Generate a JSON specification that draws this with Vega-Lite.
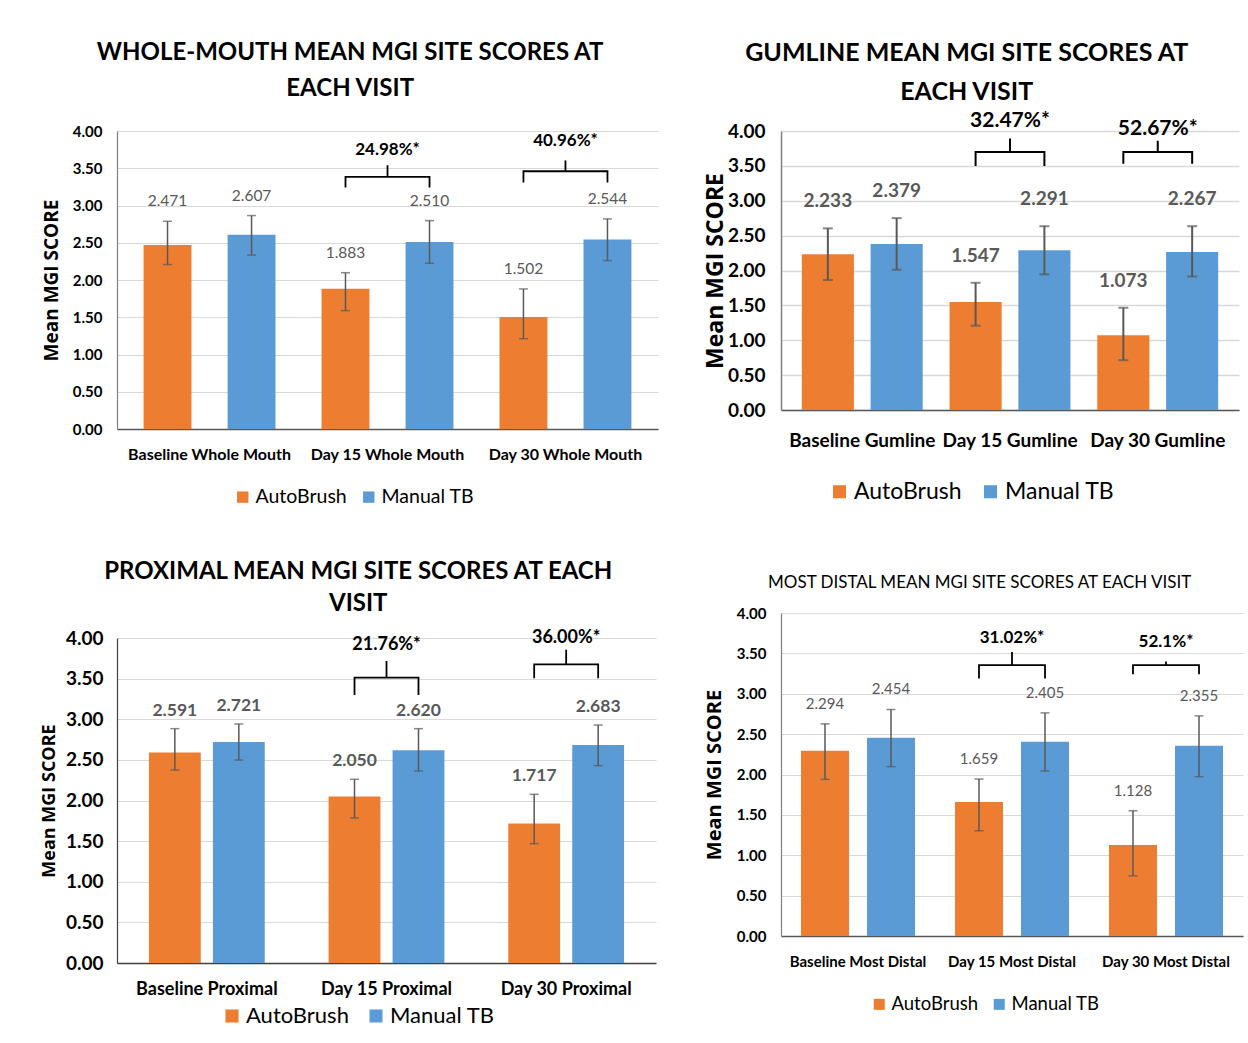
{
  "$schema": "https://vega.github.io/schema/vega-lite/v6.json",
  "background": "white",
  "padding": {"left": 40, "top": 40, "right": 2, "bottom": 0},
  "config": {
    "view": {"stroke": null},
    "font": "Lato",
    "axis": {"ticks": false, "tickSize": 0},
    "title": {"color": "black"},
    "legend": {"padding": 0, "labelOffset": 3}
  },
  "datasets": {
    "whole": [
      {"visit": "Baseline Whole Mouth", "group": "AutoBrush", "mean": 2.471, "lo": 2.207, "hi": 2.788},
      {"visit": "Baseline Whole Mouth", "group": "Manual TB", "mean": 2.607, "lo": 2.334, "hi": 2.865},
      {"visit": "Day 15 Whole Mouth", "group": "AutoBrush", "mean": 1.883, "lo": 1.589, "hi": 2.098},
      {"visit": "Day 15 Whole Mouth", "group": "Manual TB", "mean": 2.510, "lo": 2.225, "hi": 2.797},
      {"visit": "Day 30 Whole Mouth", "group": "AutoBrush", "mean": 1.502, "lo": 1.212, "hi": 1.880},
      {"visit": "Day 30 Whole Mouth", "group": "Manual TB", "mean": 2.544, "lo": 2.261, "hi": 2.820}
    ],
    "whole_br": [
      {"visit": "Day 15 Whole Mouth", "group": "AutoBrush", "y": 3.24, "ord": 1},
      {"visit": "Day 15 Whole Mouth", "group": "AutoBrush", "y": 3.383, "ord": 2},
      {"visit": "Day 15 Whole Mouth", "group": "Manual TB", "y": 3.383, "ord": 3},
      {"visit": "Day 15 Whole Mouth", "group": "Manual TB", "y": 3.24, "ord": 4},
      {"visit": "Day 30 Whole Mouth", "group": "AutoBrush", "y": 3.31, "ord": 1},
      {"visit": "Day 30 Whole Mouth", "group": "AutoBrush", "y": 3.46, "ord": 2},
      {"visit": "Day 30 Whole Mouth", "group": "Manual TB", "y": 3.46, "ord": 3},
      {"visit": "Day 30 Whole Mouth", "group": "Manual TB", "y": 3.31, "ord": 4}
    ],
    "whole_lab": [
      {"visit": "Day 15 Whole Mouth", "top": 3.383, "tip": 3.54, "ly": 3.74, "label": "24.98%*"},
      {"visit": "Day 30 Whole Mouth", "top": 3.46, "tip": 3.605, "ly": 3.87, "label": "40.96%*"}
    ],
    "gum": [
      {"visit": "Baseline Gumline", "group": "AutoBrush", "mean": 2.233, "lo": 1.864, "hi": 2.604},
      {"visit": "Baseline Gumline", "group": "Manual TB", "mean": 2.379, "lo": 2.010, "hi": 2.751},
      {"visit": "Day 15 Gumline", "group": "AutoBrush", "mean": 1.547, "lo": 1.209, "hi": 1.824},
      {"visit": "Day 15 Gumline", "group": "Manual TB", "mean": 2.291, "lo": 1.945, "hi": 2.635},
      {"visit": "Day 30 Gumline", "group": "AutoBrush", "mean": 1.073, "lo": 0.715, "hi": 1.466},
      {"visit": "Day 30 Gumline", "group": "Manual TB", "mean": 2.267, "lo": 1.914, "hi": 2.635}
    ],
    "gum_br": [
      {"visit": "Day 15 Gumline", "group": "AutoBrush", "y": 3.50, "ord": 1},
      {"visit": "Day 15 Gumline", "group": "AutoBrush", "y": 3.698, "ord": 2},
      {"visit": "Day 15 Gumline", "group": "Manual TB", "y": 3.698, "ord": 3},
      {"visit": "Day 15 Gumline", "group": "Manual TB", "y": 3.50, "ord": 4},
      {"visit": "Day 30 Gumline", "group": "AutoBrush", "y": 3.53, "ord": 1},
      {"visit": "Day 30 Gumline", "group": "AutoBrush", "y": 3.698, "ord": 2},
      {"visit": "Day 30 Gumline", "group": "Manual TB", "y": 3.698, "ord": 3},
      {"visit": "Day 30 Gumline", "group": "Manual TB", "y": 3.53, "ord": 4}
    ],
    "gum_lab": [
      {"visit": "Day 15 Gumline", "top": 3.698, "tip": 3.894, "ly": 4.146, "label": "32.47%*"},
      {"visit": "Day 30 Gumline", "top": 3.698, "tip": 3.86, "ly": 4.035, "label": "52.67%*"}
    ],
    "prox": [
      {"visit": "Baseline Proximal", "group": "AutoBrush", "mean": 2.591, "lo": 2.375, "hi": 2.884},
      {"visit": "Baseline Proximal", "group": "Manual TB", "mean": 2.721, "lo": 2.498, "hi": 2.942},
      {"visit": "Day 15 Proximal", "group": "AutoBrush", "mean": 2.050, "lo": 1.785, "hi": 2.261},
      {"visit": "Day 15 Proximal", "group": "Manual TB", "mean": 2.620, "lo": 2.363, "hi": 2.884},
      {"visit": "Day 30 Proximal", "group": "AutoBrush", "mean": 1.717, "lo": 1.469, "hi": 2.076},
      {"visit": "Day 30 Proximal", "group": "Manual TB", "mean": 2.683, "lo": 2.429, "hi": 2.929}
    ],
    "prox_br": [
      {"visit": "Day 15 Proximal", "group": "AutoBrush", "y": 3.30, "ord": 1},
      {"visit": "Day 15 Proximal", "group": "AutoBrush", "y": 3.512, "ord": 2},
      {"visit": "Day 15 Proximal", "group": "Manual TB", "y": 3.512, "ord": 3},
      {"visit": "Day 15 Proximal", "group": "Manual TB", "y": 3.30, "ord": 4},
      {"visit": "Day 30 Proximal", "group": "AutoBrush", "y": 3.504, "ord": 1},
      {"visit": "Day 30 Proximal", "group": "AutoBrush", "y": 3.676, "ord": 2},
      {"visit": "Day 30 Proximal", "group": "Manual TB", "y": 3.676, "ord": 3},
      {"visit": "Day 30 Proximal", "group": "Manual TB", "y": 3.504, "ord": 4}
    ],
    "prox_lab": [
      {"visit": "Day 15 Proximal", "top": 3.512, "tip": 3.717, "ly": 3.914, "label": "21.76%*"},
      {"visit": "Day 30 Proximal", "top": 3.676, "tip": 3.856, "ly": 3.996, "label": "36.00%*"}
    ],
    "distal": [
      {"visit": "Baseline Most Distal", "group": "AutoBrush", "mean": 2.294, "lo": 1.940, "hi": 2.627},
      {"visit": "Baseline Most Distal", "group": "Manual TB", "mean": 2.454, "lo": 2.097, "hi": 2.805},
      {"visit": "Day 15 Most Distal", "group": "AutoBrush", "mean": 1.659, "lo": 1.303, "hi": 1.944},
      {"visit": "Day 15 Most Distal", "group": "Manual TB", "mean": 2.405, "lo": 2.043, "hi": 2.763},
      {"visit": "Day 30 Most Distal", "group": "AutoBrush", "mean": 1.128, "lo": 0.745, "hi": 1.551},
      {"visit": "Day 30 Most Distal", "group": "Manual TB", "mean": 2.355, "lo": 1.973, "hi": 2.726}
    ],
    "distal_br": [
      {"visit": "Day 15 Most Distal", "group": "AutoBrush", "y": 3.19, "ord": 1},
      {"visit": "Day 15 Most Distal", "group": "AutoBrush", "y": 3.355, "ord": 2},
      {"visit": "Day 15 Most Distal", "group": "Manual TB", "y": 3.355, "ord": 3},
      {"visit": "Day 15 Most Distal", "group": "Manual TB", "y": 3.19, "ord": 4},
      {"visit": "Day 30 Most Distal", "group": "AutoBrush", "y": 3.24, "ord": 1},
      {"visit": "Day 30 Most Distal", "group": "AutoBrush", "y": 3.355, "ord": 2},
      {"visit": "Day 30 Most Distal", "group": "Manual TB", "y": 3.355, "ord": 3},
      {"visit": "Day 30 Most Distal", "group": "Manual TB", "y": 3.24, "ord": 4}
    ],
    "distal_lab": [
      {"visit": "Day 15 Most Distal", "top": 3.355, "tip": 3.516, "ly": 3.686, "label": "31.02%*"},
      {"visit": "Day 30 Most Distal", "top": 3.355, "tip": 3.40, "ly": 3.636, "label": "52.1%*"}
    ]
  },
  "hconcat": [
    {
      "concat": [
        {
          "width": 541, "height": 298,
          "title": {"text": ["WHOLE-MOUTH MEAN MGI SITE SCORES AT", "EACH VISIT"], "font": "Lato", "fontSize": 24, "fontWeight": "bold", "color": "black", "lineHeight": 36, "offset": 23, "anchor": "middle", "frame": "bounds"},
          "layer": [
            {"data": {"name": "whole"}, "mark": {"type": "bar"},
             "encoding": {
               "x": {"field": "visit", "type": "nominal", "sort": null, "scale": {"domain": ["Baseline Whole Mouth", "Day 15 Whole Mouth", "Day 30 Whole Mouth"], "paddingInner": 0, "paddingOuter": 0.02},
                     "axis": {"title": null, "labelAngle": 0, "labelFont": "Lato", "labelFontWeight": "bold", "labelFontSize": 16, "labelColor": "black", "labelPadding": 17, "domainColor": "#595959", "domainWidth": 1.5, "grid": false}},
               "xOffset": {"field": "group", "type": "nominal", "sort": null, "scale": {"domain": ["AutoBrush", "Manual TB"], "paddingInner": 0.43, "paddingOuter": 0.274}},
               "y": {"field": "mean", "type": "quantitative", "scale": {"domain": [0, 4], "nice": false},
                     "axis": {"title": "Mean MGI SCORE", "titleFont": "Open Sans", "titleFontSize": 19, "titleFontWeight": "bold", "titleColor": "black", "titlePadding": 11, "tickCount": 8, "labelOverlap": false, "format": ".2f", "labelFont": "Lato", "labelFontWeight": "bold", "labelFontSize": 15, "labelColor": "black", "labelPadding": 15, "grid": true, "gridColor": "#D9D9D9", "gridWidth": 1.2, "domainColor": "#808080", "domainWidth": 1.2}},
               "color": {"field": "group", "type": "nominal", "scale": {"domain": ["AutoBrush", "Manual TB"], "range": ["#ED7D31", "#5B9BD5"]},
                         "legend": {"orient": "none", "legendX": 116, "legendY": 356, "title": null, "direction": "horizontal", "symbolType": "square", "symbolSize": 130, "symbolStrokeWidth": 0, "labelFont": "Lato", "labelFontSize": 19.5, "labelColor": "black", "columnPadding": 12}}
             }},
            {"data": {"name": "whole"}, "mark": {"type": "rule", "color": "#595959", "strokeWidth": 1.5},
             "encoding": {"x": {"field": "visit", "type": "nominal", "sort": null}, "xOffset": {"field": "group", "type": "nominal", "sort": null}, "y": {"field": "lo", "type": "quantitative"}, "y2": {"field": "hi"}}},
            {"data": {"name": "whole"}, "mark": {"type": "tick", "color": "#595959", "thickness": 1.5, "size": 9, "orient": "horizontal"},
             "encoding": {"x": {"field": "visit", "type": "nominal", "sort": null}, "xOffset": {"field": "group", "type": "nominal", "sort": null}, "y": {"field": "hi", "type": "quantitative"}}},
            {"data": {"name": "whole"}, "mark": {"type": "tick", "color": "#595959", "thickness": 1.5, "size": 9, "orient": "horizontal"},
             "encoding": {"x": {"field": "visit", "type": "nominal", "sort": null}, "xOffset": {"field": "group", "type": "nominal", "sort": null}, "y": {"field": "lo", "type": "quantitative"}}},
            {"data": {"name": "whole"}, "mark": {"type": "text", "dy": -20, "font": "Lato", "fontSize": 15.5, "color": "#595959"},
             "encoding": {"x": {"field": "visit", "type": "nominal", "sort": null}, "xOffset": {"field": "group", "type": "nominal", "sort": null}, "y": {"field": "hi", "type": "quantitative"}, "text": {"field": "mean", "type": "quantitative", "format": ".3f"}}},
            {"data": {"name": "whole_br"}, "mark": {"type": "line", "color": "black", "strokeWidth": 1.8},
             "encoding": {"x": {"field": "visit", "type": "nominal", "sort": null}, "xOffset": {"field": "group", "type": "nominal", "sort": null}, "y": {"field": "y", "type": "quantitative"}, "detail": {"field": "visit"}, "order": {"field": "ord", "type": "quantitative"}}},
            {"data": {"name": "whole_lab"}, "mark": {"type": "rule", "color": "black", "strokeWidth": 1.8},
             "encoding": {"x": {"field": "visit", "type": "nominal", "sort": null}, "y": {"field": "top", "type": "quantitative"}, "y2": {"field": "tip"}}},
            {"data": {"name": "whole_lab"}, "mark": {"type": "text", "font": "Lato", "fontWeight": "bold", "fontSize": 17, "color": "black"},
             "encoding": {"x": {"field": "visit", "type": "nominal", "sort": null}, "y": {"field": "ly", "type": "quantitative"}, "text": {"field": "label"}}}
          ],
          "resolve": {"scale": {"xOffset": "shared"}}
        },
        {
          "width": 539, "height": 325,
          "title": {"text": ["PROXIMAL MEAN MGI SITE SCORES AT EACH", "VISIT"], "font": "Lato", "fontSize": 24, "fontWeight": "bold", "color": "black", "lineHeight": 32, "offset": 13, "anchor": "middle", "frame": "bounds", "dx": 10},
          "layer": [
            {"data": {"name": "prox"}, "mark": {"type": "bar"},
             "encoding": {
               "x": {"field": "visit", "type": "nominal", "sort": null, "scale": {"domain": ["Baseline Proximal", "Day 15 Proximal", "Day 30 Proximal"], "paddingInner": 0, "paddingOuter": 0},
                     "axis": {"title": null, "labelAngle": 0, "labelFont": "Lato", "labelFontWeight": "bold", "labelFontSize": 18, "labelColor": "black", "labelPadding": 17, "domainColor": "#404040", "domainWidth": 1.5, "grid": false}},
               "xOffset": {"field": "group", "type": "nominal", "sort": null, "scale": {"domain": ["AutoBrush", "Manual TB"], "paddingInner": 0.19, "paddingOuter": 0.499}},
               "y": {"field": "mean", "type": "quantitative", "scale": {"domain": [0, 4], "nice": false},
                     "axis": {"title": "Mean MGI SCORE", "titleFont": "Open Sans", "titleFontSize": 18, "titleFontWeight": "bold", "titleColor": "black", "titlePadding": 7, "tickCount": 8, "labelOverlap": false, "format": ".2f", "labelFont": "Lato", "labelFontWeight": "bold", "labelFontSize": 19, "labelColor": "black", "labelPadding": 14, "grid": true, "gridColor": "#D9D9D9", "gridWidth": 1.2, "domainColor": "#404040", "domainWidth": 1.2}},
               "color": {"field": "group", "type": "nominal", "scale": {"domain": ["AutoBrush", "Manual TB"], "range": ["#ED7D31", "#5B9BD5"]},
                         "legend": {"orient": "none", "legendX": 104, "legendY": 367, "title": null, "direction": "horizontal", "symbolType": "square", "symbolSize": 170, "symbolStrokeWidth": 0, "labelFont": "Lato", "labelFontSize": 22, "labelColor": "black", "columnPadding": 16}}
             }},
            {"data": {"name": "prox"}, "mark": {"type": "rule", "color": "#595959", "strokeWidth": 1.5},
             "encoding": {"x": {"field": "visit", "type": "nominal", "sort": null}, "xOffset": {"field": "group", "type": "nominal", "sort": null}, "y": {"field": "lo", "type": "quantitative"}, "y2": {"field": "hi"}}},
            {"data": {"name": "prox"}, "mark": {"type": "tick", "color": "#595959", "thickness": 1.5, "size": 9, "orient": "horizontal"},
             "encoding": {"x": {"field": "visit", "type": "nominal", "sort": null}, "xOffset": {"field": "group", "type": "nominal", "sort": null}, "y": {"field": "hi", "type": "quantitative"}}},
            {"data": {"name": "prox"}, "mark": {"type": "tick", "color": "#595959", "thickness": 1.5, "size": 9, "orient": "horizontal"},
             "encoding": {"x": {"field": "visit", "type": "nominal", "sort": null}, "xOffset": {"field": "group", "type": "nominal", "sort": null}, "y": {"field": "lo", "type": "quantitative"}}},
            {"data": {"name": "prox"}, "mark": {"type": "text", "dy": -18, "font": "Lato", "fontWeight": "bold", "fontSize": 17.5, "color": "#595959"},
             "encoding": {"x": {"field": "visit", "type": "nominal", "sort": null}, "xOffset": {"field": "group", "type": "nominal", "sort": null}, "y": {"field": "hi", "type": "quantitative"}, "text": {"field": "mean", "type": "quantitative", "format": ".3f"}}},
            {"data": {"name": "prox_br"}, "mark": {"type": "line", "color": "black", "strokeWidth": 1.8},
             "encoding": {"x": {"field": "visit", "type": "nominal", "sort": null}, "xOffset": {"field": "group", "type": "nominal", "sort": null}, "y": {"field": "y", "type": "quantitative"}, "detail": {"field": "visit"}, "order": {"field": "ord", "type": "quantitative"}}},
            {"data": {"name": "prox_lab"}, "mark": {"type": "rule", "color": "black", "strokeWidth": 1.8},
             "encoding": {"x": {"field": "visit", "type": "nominal", "sort": null}, "y": {"field": "top", "type": "quantitative"}, "y2": {"field": "tip"}}},
            {"data": {"name": "prox_lab"}, "mark": {"type": "text", "font": "Lato", "fontWeight": "bold", "fontSize": 18, "color": "black"},
             "encoding": {"x": {"field": "visit", "type": "nominal", "sort": null}, "y": {"field": "ly", "type": "quantitative"}, "text": {"field": "label"}}}
          ],
          "resolve": {"scale": {"xOffset": "shared"}}
        }
      ],
      "columns": 1,
      "spacing": 53,
      "resolve": {"scale": {"color": "independent", "xOffset": "independent", "x": "independent", "y": "independent"}, "legend": {"color": "independent"}}
    },
    {
      "concat": [
        {
          "width": 458, "height": 279,
          "title": {"text": ["GUMLINE MEAN MGI SITE SCORES AT", "EACH VISIT"], "font": "Lato", "fontSize": 25, "fontWeight": "bold", "color": "black", "lineHeight": 39, "offset": 5, "anchor": "middle", "frame": "bounds", "dx": -5},
          "layer": [
            {"data": {"name": "gum"}, "mark": {"type": "bar"},
             "encoding": {
               "x": {"field": "visit", "type": "nominal", "sort": null, "scale": {"domain": ["Baseline Gumline", "Day 15 Gumline", "Day 30 Gumline"], "paddingInner": 0, "paddingOuter": 0.05},
                     "axis": {"title": null, "labelAngle": 0, "labelFont": "Lato", "labelFontWeight": "bold", "labelFontSize": 19, "labelColor": "black", "labelPadding": 21, "domainColor": "#595959", "domainWidth": 1.5, "grid": false}},
               "xOffset": {"field": "group", "type": "nominal", "sort": null, "scale": {"domain": ["AutoBrush", "Manual TB"], "paddingInner": 0.243, "paddingOuter": 0.195}},
               "y": {"field": "mean", "type": "quantitative", "scale": {"domain": [0, 4], "nice": false},
                     "axis": {"title": "Mean MGI SCORE", "titleFont": "Open Sans", "titleFontSize": 23, "titleFontWeight": "bold", "titleColor": "black", "titlePadding": 0, "tickCount": 8, "labelOverlap": false, "format": ".2f", "labelFont": "Lato", "labelFontWeight": "bold", "labelFontSize": 19, "labelColor": "black", "labelPadding": 16, "grid": true, "gridColor": "#D9D9D9", "gridWidth": 1.5, "domainColor": "#808080", "domainWidth": 1.5}},
               "color": {"field": "group", "type": "nominal", "scale": {"domain": ["AutoBrush", "Manual TB"], "range": ["#ED7D31", "#5B9BD5"]},
                         "legend": {"orient": "none", "legendX": 47, "legendY": 349, "title": null, "direction": "horizontal", "symbolType": "square", "symbolSize": 170, "symbolStrokeWidth": 0, "labelFont": "Lato", "labelFontSize": 23, "labelColor": "black", "columnPadding": 17}}
             }},
            {"data": {"name": "gum"}, "mark": {"type": "rule", "color": "#595959", "strokeWidth": 2},
             "encoding": {"x": {"field": "visit", "type": "nominal", "sort": null}, "xOffset": {"field": "group", "type": "nominal", "sort": null}, "y": {"field": "lo", "type": "quantitative"}, "y2": {"field": "hi"}}},
            {"data": {"name": "gum"}, "mark": {"type": "tick", "color": "#595959", "thickness": 2, "size": 10, "orient": "horizontal"},
             "encoding": {"x": {"field": "visit", "type": "nominal", "sort": null}, "xOffset": {"field": "group", "type": "nominal", "sort": null}, "y": {"field": "hi", "type": "quantitative"}}},
            {"data": {"name": "gum"}, "mark": {"type": "tick", "color": "#595959", "thickness": 2, "size": 10, "orient": "horizontal"},
             "encoding": {"x": {"field": "visit", "type": "nominal", "sort": null}, "xOffset": {"field": "group", "type": "nominal", "sort": null}, "y": {"field": "lo", "type": "quantitative"}}},
            {"data": {"name": "gum"}, "mark": {"type": "text", "dy": -27, "font": "Lato", "fontWeight": "bold", "fontSize": 19, "color": "#595959"},
             "encoding": {"x": {"field": "visit", "type": "nominal", "sort": null}, "xOffset": {"field": "group", "type": "nominal", "sort": null}, "y": {"field": "hi", "type": "quantitative"}, "text": {"field": "mean", "type": "quantitative", "format": ".3f"}}},
            {"data": {"name": "gum_br"}, "mark": {"type": "line", "color": "black", "strokeWidth": 2},
             "encoding": {"x": {"field": "visit", "type": "nominal", "sort": null}, "xOffset": {"field": "group", "type": "nominal", "sort": null}, "y": {"field": "y", "type": "quantitative"}, "detail": {"field": "visit"}, "order": {"field": "ord", "type": "quantitative"}}},
            {"data": {"name": "gum_lab"}, "mark": {"type": "rule", "color": "black", "strokeWidth": 2},
             "encoding": {"x": {"field": "visit", "type": "nominal", "sort": null}, "y": {"field": "top", "type": "quantitative"}, "y2": {"field": "tip"}}},
            {"data": {"name": "gum_lab"}, "mark": {"type": "text", "font": "Lato", "fontWeight": "bold", "fontSize": 21, "color": "black"},
             "encoding": {"x": {"field": "visit", "type": "nominal", "sort": null}, "y": {"field": "ly", "type": "quantitative"}, "text": {"field": "label"}}}
          ],
          "resolve": {"scale": {"xOffset": "shared"}}
        },
        {
          "width": 462, "height": 323,
          "title": {"text": "MOST DISTAL MEAN MGI SITE SCORES AT EACH VISIT", "font": "Lato", "fontSize": 17, "fontWeight": "normal", "color": "black", "offset": 14, "anchor": "middle", "frame": "bounds", "dx": 6},
          "layer": [
            {"data": {"name": "distal"}, "mark": {"type": "bar"},
             "encoding": {
               "x": {"field": "visit", "type": "nominal", "sort": null, "scale": {"domain": ["Baseline Most Distal", "Day 15 Most Distal", "Day 30 Most Distal"], "paddingInner": 0, "paddingOuter": 0},
                     "axis": {"title": null, "labelAngle": 0, "labelFont": "Lato", "labelFontWeight": "bold", "labelFontSize": 15, "labelColor": "black", "labelPadding": 18, "domainColor": "#595959", "domainWidth": 1.5, "grid": false}},
               "xOffset": {"field": "group", "type": "nominal", "sort": null, "scale": {"domain": ["AutoBrush", "Manual TB"], "paddingInner": 0.273, "paddingOuter": 0.303}},
               "y": {"field": "mean", "type": "quantitative", "scale": {"domain": [0, 4], "nice": false},
                     "axis": {"title": "Mean MGI SCORE", "titleFont": "Open Sans", "titleFontSize": 20, "titleFontWeight": "bold", "titleColor": "black", "titlePadding": 12, "values": [0, 0.5, 1, 1.5, 2, 2.5, 3, 3.5, 4], "format": ".2f", "labelFont": "Lato", "labelFontWeight": "bold", "labelFontSize": 15, "labelColor": "black", "labelPadding": 15, "gridColor": "#D9D9D9", "gridWidth": 1.2, "domainColor": "#808080", "domainWidth": 1.2}},
               "color": {"field": "group", "type": "nominal", "scale": {"domain": ["AutoBrush", "Manual TB"], "range": ["#ED7D31", "#5B9BD5"]},
                         "legend": {"orient": "none", "legendX": 89, "legendY": 382, "title": null, "direction": "horizontal", "symbolType": "square", "symbolSize": 121, "symbolStrokeWidth": 0, "labelFont": "Lato", "labelFontSize": 18.5, "labelColor": "black", "columnPadding": 11}}
             }},
            {"data": {"name": "distal"}, "mark": {"type": "rule", "color": "#595959", "strokeWidth": 1.5},
             "encoding": {"x": {"field": "visit", "type": "nominal", "sort": null}, "xOffset": {"field": "group", "type": "nominal", "sort": null}, "y": {"field": "lo", "type": "quantitative"}, "y2": {"field": "hi"}}},
            {"data": {"name": "distal"}, "mark": {"type": "tick", "color": "#595959", "thickness": 1.5, "size": 9, "orient": "horizontal"},
             "encoding": {"x": {"field": "visit", "type": "nominal", "sort": null}, "xOffset": {"field": "group", "type": "nominal", "sort": null}, "y": {"field": "hi", "type": "quantitative"}}},
            {"data": {"name": "distal"}, "mark": {"type": "tick", "color": "#595959", "thickness": 1.5, "size": 9, "orient": "horizontal"},
             "encoding": {"x": {"field": "visit", "type": "nominal", "sort": null}, "xOffset": {"field": "group", "type": "nominal", "sort": null}, "y": {"field": "lo", "type": "quantitative"}}},
            {"data": {"name": "distal"}, "mark": {"type": "text", "dy": -20, "font": "Lato", "fontSize": 15, "color": "#595959"},
             "encoding": {"x": {"field": "visit", "type": "nominal", "sort": null}, "xOffset": {"field": "group", "type": "nominal", "sort": null}, "y": {"field": "hi", "type": "quantitative"}, "text": {"field": "mean", "type": "quantitative", "format": ".3f"}}},
            {"data": {"name": "distal_br"}, "mark": {"type": "line", "color": "black", "strokeWidth": 1.8},
             "encoding": {"x": {"field": "visit", "type": "nominal", "sort": null}, "xOffset": {"field": "group", "type": "nominal", "sort": null}, "y": {"field": "y", "type": "quantitative"}, "detail": {"field": "visit"}, "order": {"field": "ord", "type": "quantitative"}}},
            {"data": {"name": "distal_lab"}, "mark": {"type": "rule", "color": "black", "strokeWidth": 1.8},
             "encoding": {"x": {"field": "visit", "type": "nominal", "sort": null}, "y": {"field": "top", "type": "quantitative"}, "y2": {"field": "tip"}}},
            {"data": {"name": "distal_lab"}, "mark": {"type": "text", "font": "Lato", "fontWeight": "bold", "fontSize": 17, "color": "black"},
             "encoding": {"x": {"field": "visit", "type": "nominal", "sort": null}, "y": {"field": "ly", "type": "quantitative"}, "text": {"field": "label"}}}
          ],
          "resolve": {"scale": {"xOffset": "shared"}}
        }
      ],
      "columns": 1,
      "spacing": 70,
      "resolve": {"scale": {"color": "independent", "xOffset": "independent", "x": "independent", "y": "independent"}, "legend": {"color": "independent"}}
    }
  ],
  "spacing": 46,
  "resolve": {"scale": {"color": "independent", "xOffset": "independent", "x": "independent", "y": "independent"}, "legend": {"color": "independent"}}
}
